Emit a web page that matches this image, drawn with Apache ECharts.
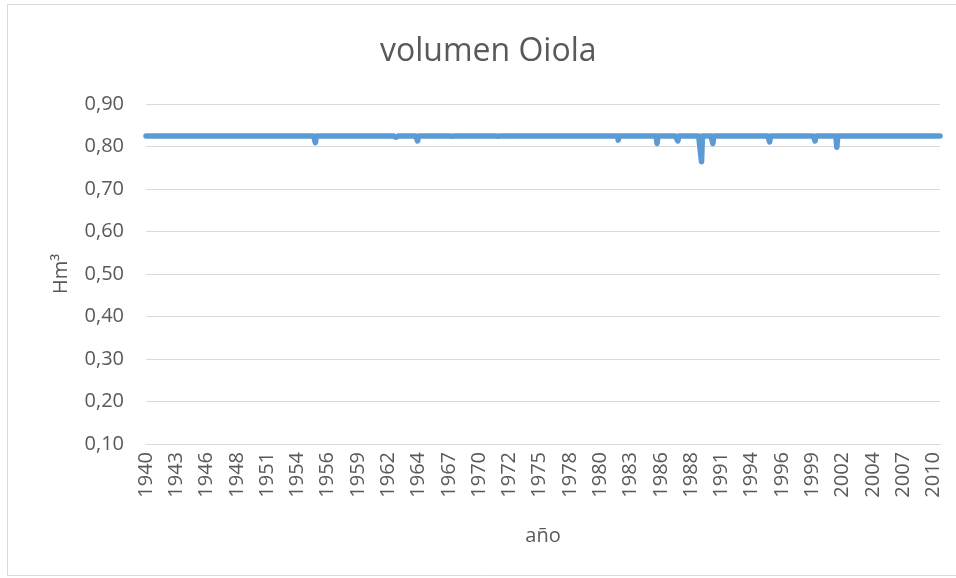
<!DOCTYPE html>
<html>
<head>
<meta charset="utf-8">
<script src="https://cdn.jsdelivr.net/npm/echarts@6/dist/echarts.min.js"></script>
<style>
  html, body { margin: 0; padding: 0; background: #fff; }
  #main { width: 956px; height: 578px; }
</style>
</head>
<body>
<div id="main"></div>
<script>
var chart = echarts.init(document.getElementById('main'));

// serie mensual, año hidrológico: oct 1940 - sep 2010
var firstMonth = [1940, 10];
var lastMonth = [2010, 9];
// nivel habitual del embalse (Hm3)
var baseLevel = 0.825;
// meses en los que el volumen baja del nivel habitual
var dipMonths = ['1944-08', '1955-09', '1957-11', '1962-10', '1964-09', '1967-10', '1971-10',
  '1982-05', '1983-07', '1985-10', '1987-08', '1989-09', '1990-09', '1995-09', '1999-09',
  '2001-08', '2003-08'];
var dipValues = [0.824, 0.809, 0.824, 0.822, 0.813, 0.824, 0.824,
  0.815, 0.824, 0.807, 0.813, 0.764, 0.807, 0.811, 0.813,
  0.798, 0.824];

var textColor = '#595959';
var gridColor = '#d9d9d9';
var lineColor = '#5b9bd5';
var font = 'Open Sans';

var months = [];
var y = firstMonth[0], m = firstMonth[1];
while (y < lastMonth[0] || (y === lastMonth[0] && m <= lastMonth[1])) {
    months.push(y + '-' + (m < 10 ? '0' + m : m));
    m++;
    if (m > 12) { m = 1; y++; }
}

var volume = months.map(function (k) {
    var i = dipMonths.indexOf(k);
    return i >= 0 ? dipValues[i] : baseLevel;
});

option = {
    backgroundColor: '#fff',
    animation: false,
    title: {
        text: 'volumen Oiola',
        left: 375,
        top: 31,
        textStyle: {
            fontFamily: font,
            fontSize: 32,
            fontWeight: 'normal',
            color: textColor
        }
    },
    graphic: [{
        type: 'rect',
        shape: { x: 7.5, y: 4.5, width: 960, height: 571 },
        style: { fill: 'none', stroke: gridColor, lineWidth: 1 },
        silent: true
    }],
    grid: {
        left: 146,
        right: 16,
        top: 104,
        bottom: 134
    },
    xAxis: {
        type: 'category',
        data: months,
        boundaryGap: false,
        name: 'año',
        nameLocation: 'middle',
        nameGap: 82,
        nameTextStyle: { fontFamily: font, fontSize: 20, color: textColor },
        axisLine: { lineStyle: { color: gridColor, width: 1 } },
        axisTick: { show: false },
        axisLabel: {
            interval: 31,
            rotate: 90,
            margin: 8,
            fontFamily: font,
            fontSize: 20,
            color: textColor,
            formatter: function (v) { return v.slice(0, 4); }
        },
        splitLine: { show: false }
    },
    yAxis: {
        type: 'value',
        min: 0.1,
        max: 0.9,
        interval: 0.1,
        name: 'Hm³',
        nameLocation: 'middle',
        nameGap: 75,
        nameTextStyle: { fontFamily: font, fontSize: 20, color: textColor },
        axisLine: { show: false },
        axisTick: { show: false },
        axisLabel: {
            margin: 22,
            fontFamily: font,
            fontSize: 20,
            color: textColor,
            formatter: function (v) { return v.toFixed(2).replace('.', ','); }
        },
        splitLine: { lineStyle: { color: gridColor, width: 1 } }
    },
    series: [{
        type: 'line',
        data: volume,
        showSymbol: false,
        lineStyle: { color: lineColor, width: 5.5, cap: 'round', join: 'round' },
        itemStyle: { color: lineColor }
    }]
};

chart.setOption(option);
</script>
</body>
</html>
